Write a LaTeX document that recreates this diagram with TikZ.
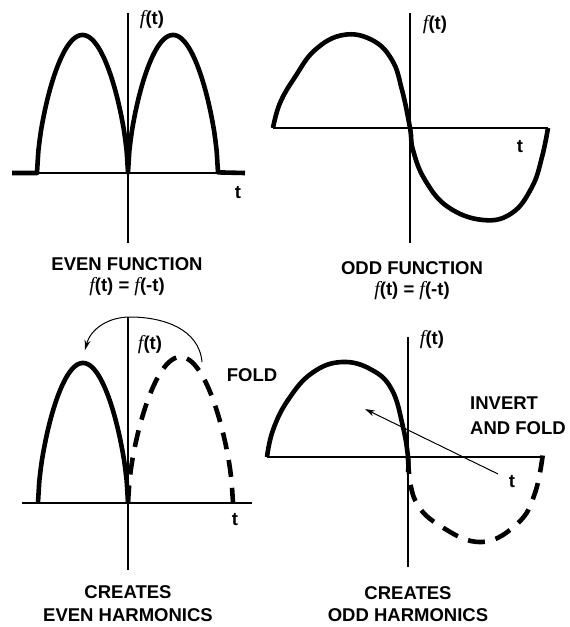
\documentclass[tikz,border=0pt]{standalone}
\usepackage{fontspec}
\setmainfont{Liberation Sans}
\newfontfamily\serifface{Liberation Serif}
\usepackage{tikz}
\usetikzlibrary{arrows.meta}
\newcommand{\fsym}{{\serifface\mdseries\itshape\fontsize{20}{21}\selectfont f}}

\begin{document}
\begin{tikzpicture}[x=1pt, y=-1pt,
  wave/.style={line width=4.6pt, line join=round},
  dashwave/.style={line width=4.6pt, dash pattern=on 17pt off 11pt},
  axis/.style={line width=1.8pt},
  lbl/.style={font=\fontsize{18.5}{20}\selectfont\bfseries, inner sep=0pt},
  foldarrow/.style={line width=1pt, -{Stealth[length=10pt,width=6pt]}}]
  \useasboundingbox (0,0) rectangle (570,627);

  \draw[axis] (12,173) -- (245,173);
  \draw[axis] (128,13) -- (128,243);
  \draw[wave] (12,173) -- (37,173)
    -- plot[domain=37:128, samples=70] (\x,{173-138*pow(abs(sin((\x-37)/91*180))+0.0001,0.6)})
    -- plot[domain=128:218, samples=70] (\x,{173-138*pow(abs(sin((\x-128)*2))+0.0001,0.6)})
    -- (245,173);
  \node[lbl] (evenf)  at (152,20)  {\fsym(t)};
  \node[lbl] (event)  at (238,193) {t};
  \node[lbl] (evenl1) at (127,264) {EVEN FUNCTION};
  \node[lbl] (evenl2) at (127,287) {\fsym(t) = \fsym(-t)};

  \draw[axis] (273,128) -- (548,128);
  \draw[axis] (410,13) -- (410,243);
  \draw[wave] plot[smooth, tension=0.7] coordinates {(273,128) (280,103) (295,77) (315,50)
    (343,35) (372,40) (392,60) (402,90) (410,128) (413,150) (425,180) (448,207)
    (483,220) (512,213) (532,187) (542,157) (548,128)};
  \node[lbl] (oddf)  at (435,25)  {\fsym(t)};
  \node[lbl] (oddt)  at (520,147) {t};
  \node[lbl] (oddl1) at (412,268) {ODD FUNCTION};
  \node[lbl] (oddl2) at (412,291) {\fsym(t) = \fsym(-t)};

  \draw[axis] (22,503) -- (252,503);
  \draw[axis] (128,317) -- (128,570);
  \draw[wave] plot[domain=38:128, samples=70] (\x,{503-140*pow(abs(sin((\x-38)*2))+0.0001,0.6)});
  \draw[dashwave] plot[domain=128:233, samples=70] (\x,{503-146*pow(abs(sin((\x-128)/105*180))+0.0001,0.6)});
  \coordinate (foldstart) at (202,362);
  \coordinate (foldtop)   at (130,317);
  \coordinate (foldend)   at (85,350);
  \draw[foldarrow] (foldstart) to[out=95,in=0] (foldtop) to[out=180,in=75] (foldend);
  \node[lbl] (creef)  at (150,345) {\fsym(t)};
  \node[lbl] (fold)   at (252,375) {FOLD};
  \node[lbl] (creet)  at (235,520) {t};
  \node[lbl] (creel1) at (128,592) {CREATES};
  \node[lbl] (creel2) at (128,615) {EVEN HARMONICS};

  \draw[axis] (267,457) -- (543,457);
  \draw[axis] (408,337) -- (408,567);
  \draw[wave] plot[smooth, tension=0.7] coordinates {(267,457) (273,430) (288,400) (312,373)
    (342,362) (372,370) (392,390) (403,427) (408,457) (408,472)};
  \draw[dashwave] plot[smooth, tension=0.7] coordinates {(408,457) (415,500) (442,527)
    (482,542) (518,523) (535,493) (543,453)};
  \node[lbl] (invf)  at (432,340) {\fsym(t)};
  \node[lbl] (invt)  at (512,482) {t};
  \node[lbl, anchor=west] (invl1) at (470,403) {INVERT};
  \node[lbl, anchor=west] (invl2) at (470,428) {AND FOLD};
  \coordinate (invstart) at (498,474);
  \coordinate (invend)   at (365,409);
  \draw[foldarrow] (invstart) -- (invend);
  \node[lbl] (oddh1) at (408,593) {CREATES};
  \node[lbl] (oddh2) at (408,615) {ODD HARMONICS};
\end{tikzpicture}
\end{document}
